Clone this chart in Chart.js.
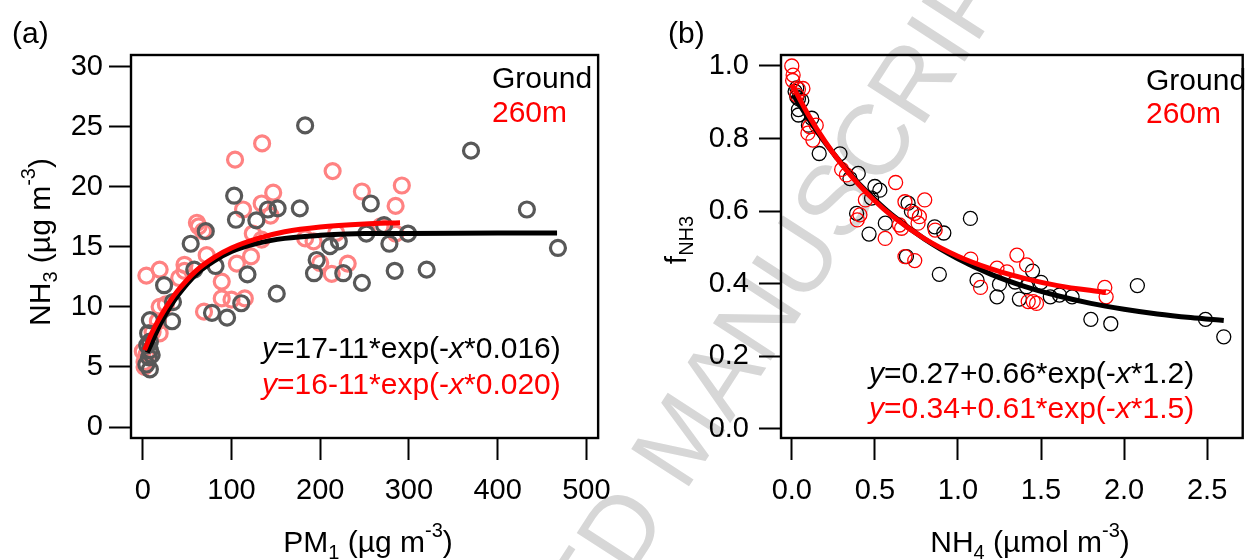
<!DOCTYPE html>
<html>
<head>
<meta charset="utf-8">
<script src="https://cdn.jsdelivr.net/npm/chart.js@4.4.1/dist/chart.umd.min.js"></script>
<style>
  html, body { margin: 0; padding: 0; background: #fff; }
  #wrap { position: relative; width: 1251px; height: 560px; overflow: hidden; }
  canvas { position: absolute; top: 0; }
</style>
</head>
<body>
<div id="wrap">
  <canvas id="wm" width="1251" height="560" style="left:0"></canvas>
  <canvas id="chartA" width="625" height="560" style="left:0"></canvas>
  <canvas id="chartB" width="626" height="560" style="left:625px"></canvas>
</div>
<script>
// ---- data: panel (a) NH3 vs PM1 ----
const aTicksX = [0, 100, 200, 300, 400, 500]
const aTicksY = [0, 5, 10, 15, 20, 25, 30]
const aGround = [[183,25.1],[370,23.0],[433,18.1],[468,14.9],[103,19.25],[105,17.25],[128,17.2],[141,18.1],
  [152,18.2],[177,18.2],[257,18.6],[272,16.8],[252,16.1],[299,16.1],[278,15.25],[211,15.05],[221,15.45],
  [196,13.9],[193,12.8],[226,12.8],[247,12.0],[284,13.0],[320,13.1],[151,11.1],[118,12.7],[111,10.3],
  [95,9.1],[78,9.5],[82,13.4],[71,16.3],[54,15.25],[58,13.1],[24,11.8],[34,10.4],[33,8.8],[8,8.9],
  [6,7.8],[8,7.1],[5,6.8],[8,6.4],[7,5.8],[4,5.2],[8,4.8],[10,6.0]]
const a260 = [[134.5,23.6],[104,22.25],[214,21.3],[292,20.1],[247,19.6],[285,18.4],[147,19.5],[134,18.6],
  [113,18.1],[144,17.6],[124,16.1],[134,15.6],[183,15.7],[192.5,15.45],[218,16.15],[268,16.7],[285,16.1],
  [61,17.0],[63,16.7],[68,16.3],[72,14.3],[122,14.2],[106,13.6],[200,13.65],[213,12.75],[231,13.6],
  [89,12.1],[19,13.1],[4,12.6],[47,13.5],[47,13.0],[41,12.4],[26,10.2],[19,10.0],[89,10.7],[115,10.7],
  [100,10.6],[69,9.6],[11,7.9],[19,7.8],[17,8.8],[0,6.3],[2,5.4],[4,6.0],[2,5.0]]
const aGroundFit = [[5,6.2],[10,7.0],[20,8.6],[30,9.9],[40,11.0],[60,12.7],[80,13.8],[100,14.6],[130,15.3],
  [160,15.7],[200,15.95],[250,16.1],[300,16.1],[400,16.15],[467,16.15]]
const a260Fit = [[2,6.4],[10,7.8],[20,9.2],[30,10.4],[40,11.4],[60,13.0],[80,14.1],[100,14.9],[130,15.7],
  [160,16.25],[200,16.65],[250,16.9],[290,17.0]]

// ---- data: panel (b) fNH3 vs NH4 ----
const bTicksX = [0, 0.5, 1.0, 1.5, 2.0, 2.5]
const bTicksY = [0, 0.2, 0.4, 0.6, 0.8, 1.0]
const bGround = [[0.02,0.93],[0.03,0.94],[0.03,0.915],[0.04,0.91],[0.06,0.905],[0.04,0.88],[0.04,0.865],
  [0.12,0.856],[0.1,0.837],[0.165,0.759],[0.29,0.758],[0.35,0.69],[0.40,0.704],[0.50,0.668],[0.53,0.658],
  [0.48,0.636],[0.39,0.594],[0.465,0.537],[0.563,0.567],[0.70,0.622],[0.72,0.60],[0.86,0.557],[0.915,0.54],
  [1.075,0.58],[0.69,0.475],[0.888,0.426],[1.115,0.41],[1.235,0.364],[1.25,0.399],[1.344,0.405],
  [1.37,0.358],[1.449,0.435],[1.50,0.404],[1.556,0.364],[1.611,0.369],[1.687,0.364],[1.413,0.392],
  [1.80,0.302],[1.92,0.29],[2.08,0.395],[2.49,0.302],[2.60,0.254]]
const b260 = [[0.0,1.0],[0.008,0.975],[0.005,0.96],[0.04,0.936],[0.067,0.938],[0.03,0.92],[0.107,0.833],
  [0.147,0.837],[0.097,0.815],[0.127,0.796],[0.30,0.715],[0.329,0.70],[0.625,0.679],[0.443,0.631],
  [0.394,0.576],[0.41,0.59],[0.562,0.525],[0.681,0.626],[0.80,0.631],[0.74,0.594],[0.768,0.585],
  [0.76,0.567],[0.661,0.553],[0.648,0.562],[0.863,0.548],[0.681,0.475],[0.74,0.464],[1.077,0.468],
  [1.136,0.39],[1.235,0.443],[1.295,0.433],[1.355,0.479],[1.413,0.452],[1.423,0.351],[1.453,0.351],
  [1.473,0.346],[1.884,0.39],[1.892,0.364]]
const bGroundFit = [[0.01,0.92],[0.1,0.855],[0.2,0.789],[0.3,0.731],[0.4,0.678],[0.5,0.632],[0.6,0.591],
  [0.8,0.523],[1.0,0.469],[1.2,0.426],[1.4,0.393],[1.6,0.367],[1.8,0.346],[2.0,0.330],[2.2,0.317],
  [2.4,0.307],[2.6,0.299]]
const b260Fit = [[0.0,0.95],[0.1,0.865],[0.2,0.792],[0.3,0.729],[0.4,0.675],[0.5,0.628],[0.6,0.588],
  [0.8,0.524],[1.0,0.476],[1.2,0.441],[1.4,0.415],[1.6,0.395],[1.89,0.376]]

const FONT = '"Liberation Sans", Arial, sans-serif'
Chart.defaults.font.family = FONT
Chart.defaults.color = '#000'

const pts = arr => arr.map(p => ({ x: p[0], y: p[1] }))

// draw text made of pieces: [text, 'i' | 'sub' | 'sup' | '']
function rich(ctx, parts, x, y, color, align) {
  const fontOf = s => (s === 'i' ? 'italic ' : '') + (s === 'sub' || s === 'sup' ? 20 : 30) + 'px ' + FONT
  let w = 0
  parts.forEach(p => { ctx.font = fontOf(p[1]); w += ctx.measureText(p[0]).width })
  let cx = align === 'center' ? x - w / 2 : (align === 'right' ? x - w : x)
  ctx.fillStyle = color
  ctx.textAlign = 'left'
  ctx.textBaseline = 'alphabetic'
  parts.forEach(p => {
    ctx.font = fontOf(p[1])
    const dy = p[1] === 'sub' ? 7 : (p[1] === 'sup' ? -15 : 0)
    ctx.fillText(p[0], cx, y + dy)
    cx += ctx.measureText(p[0]).width
  })
}

// box round the plot area
const frame = {
  id: 'frame',
  afterDraw(chart) {
    const { ctx, chartArea: { left, top, right, bottom } } = chart
    ctx.save()
    ctx.strokeStyle = '#000'
    ctx.lineWidth = 2.4
    ctx.strokeRect(left, top, right - left, bottom - top)
    ctx.restore()
  }
}

function scales(xr, yr, xt, yt, yw, ypad, fmt) {
  const grid = { drawOnChartArea: false, drawTicks: true, tickLength: 22, tickWidth: 2, tickColor: '#000' }
  return {
    x: {
      type: 'linear', min: xr[0], max: xr[1],
      afterBuildTicks: s => { s.ticks = xt.map(v => ({ value: v })) },
      afterFit: s => { s.height = 122 },
      ticks: { font: { size: 29 }, color: '#000', padding: 14, maxRotation: 0, autoSkip: false, callback: fmt },
      grid: grid, border: { display: false }
    },
    y: {
      type: 'linear', min: yr[0], max: yr[1],
      afterBuildTicks: s => { s.ticks = yt.map(v => ({ value: v })) },
      afterFit: s => { s.width = yw },
      ticks: { font: { size: 29 }, color: '#000', padding: ypad, autoSkip: false, callback: fmt },
      grid: grid, border: { display: false }
    }
  }
}

const base = {
  responsive: false, animation: false, devicePixelRatio: 1, events: [],
  plugins: { legend: { display: false }, tooltip: { enabled: false } }
}

// PANEL A ---------------------------------------------------------------
const textA = {
  id: 'textA',
  afterDraw(chart) {
    const ctx = chart.ctx
    ctx.save()
    rich(ctx, [['(a)', '']], 12, 43, '#000', 'left')
    rich(ctx, [['Ground', '']], 492, 88, '#000', 'left')
    rich(ctx, [['260m', '']], 492, 122, '#ff0000', 'left')
    rich(ctx, [['y', 'i'], ['=17-11*exp(-', ''], ['x', 'i'], ['*0.016)', '']], 262, 358, '#000', 'left')
    rich(ctx, [['y', 'i'], ['=16-11*exp(-', ''], ['x', 'i'], ['*0.020)', '']], 262, 394, '#ff0000', 'left')
    rich(ctx, [['PM', ''], ['1', 'sub'], [' (µg m', ''], ['-3', 'sup'], [')', '']], 368, 552, '#000', 'center')
    ctx.translate(50, 242)
    ctx.rotate(-Math.PI / 2)
    rich(ctx, [['NH', ''], ['3', 'sub'], [' (µg m', ''], ['-3', 'sup'], [')', '']], 0, 0, '#000', 'center')
    ctx.restore()
  }
}

new Chart(document.getElementById('chartA'), {
  type: 'scatter',
  data: {
    datasets: [
      { data: pts(a260Fit), showLine: true, borderColor: '#ff0000', borderWidth: 5, pointRadius: 0, cubicInterpolationMode: 'monotone' },
      { data: pts(aGroundFit), showLine: true, borderColor: '#000', borderWidth: 5, pointRadius: 0, cubicInterpolationMode: 'monotone' },
      { data: pts(aGround), pointStyle: 'circle', pointRadius: 7.5, pointBorderWidth: 3.2, pointBorderColor: '#585858', pointBackgroundColor: 'rgba(0,0,0,0)' },
      { data: pts(a260), pointStyle: 'circle', pointRadius: 7.5, pointBorderWidth: 3.2, pointBorderColor: '#ff8282', pointBackgroundColor: 'rgba(0,0,0,0)' }
    ]
  },
  options: Object.assign({}, base, {
    layout: { padding: { left: 0, top: 55, right: 19, bottom: 0 } },
    scales: scales([-13.3, 513.3], [-0.915, 30.96], aTicksX, aTicksY, 131, 6, v => String(v))
  }),
  plugins: [frame, textA]
})

// PANEL B ---------------------------------------------------------------
const textB = {
  id: 'textB',
  afterDraw(chart) {
    const ctx = chart.ctx
    ctx.save()
    rich(ctx, [['(b)', '']], 43, 43, '#000', 'left')
    rich(ctx, [['Ground', '']], 521, 90, '#000', 'left')
    rich(ctx, [['260m', '']], 521, 123, '#ff0000', 'left')
    rich(ctx, [['y', 'i'], ['=0.27+0.66*exp(-', ''], ['x', 'i'], ['*1.2)', '']], 244, 383, '#000', 'left')
    rich(ctx, [['y', 'i'], ['=0.34+0.61*exp(-', ''], ['x', 'i'], ['*1.5)', '']], 244, 418, '#ff0000', 'left')
    rich(ctx, [['NH', ''], ['4', 'sub'], [' (µmol m', ''], ['-3', 'sup'], [')', '']], 405, 552, '#000', 'center')
    ctx.translate(61, 240)
    ctx.rotate(-Math.PI / 2)
    rich(ctx, [['f', ''], ['NH', 'sub'], ['3', 'sub']], 0, 0, '#000', 'center')
    ctx.restore()
  }
}

new Chart(document.getElementById('chartB'), {
  type: 'scatter',
  data: {
    datasets: [
      { data: pts(b260Fit), showLine: true, borderColor: '#ff0000', borderWidth: 5, pointRadius: 0, cubicInterpolationMode: 'monotone' },
      { data: pts(bGroundFit), showLine: true, borderColor: '#000', borderWidth: 5, pointRadius: 0, cubicInterpolationMode: 'monotone' },
      { data: pts(b260), pointStyle: 'circle', pointRadius: 7, pointBorderWidth: 1.3, pointBorderColor: '#ff0000', pointBackgroundColor: 'rgba(0,0,0,0)' },
      { data: pts(bGround), pointStyle: 'circle', pointRadius: 7, pointBorderWidth: 1.3, pointBorderColor: '#000', pointBackgroundColor: 'rgba(0,0,0,0)' }
    ]
  },
  options: Object.assign({}, base, {
    layout: { padding: { left: 0, top: 55, right: 2, bottom: 0 } },
    scales: scales([-0.065, 2.714], [-0.0248, 1.0303], bTicksX, bTicksY, 156, 10, v => v.toFixed(1))
  }),
  plugins: [frame, textB]
})

// watermark behind both panels
const wm = document.getElementById('wm').getContext('2d')
wm.font = '100px ' + FONT
wm.fillStyle = '#d7d7d7'
const wmOff = wm.measureText('ACCEPTED MANUSC').width + wm.measureText('R').width / 2
wm.translate(910, 80)
wm.rotate(-57 * Math.PI / 180)
wm.fillText('ACCEPTED MANUSCRIPT', -wmOff, 0.36 * 100)
</script>
</body>
</html>
